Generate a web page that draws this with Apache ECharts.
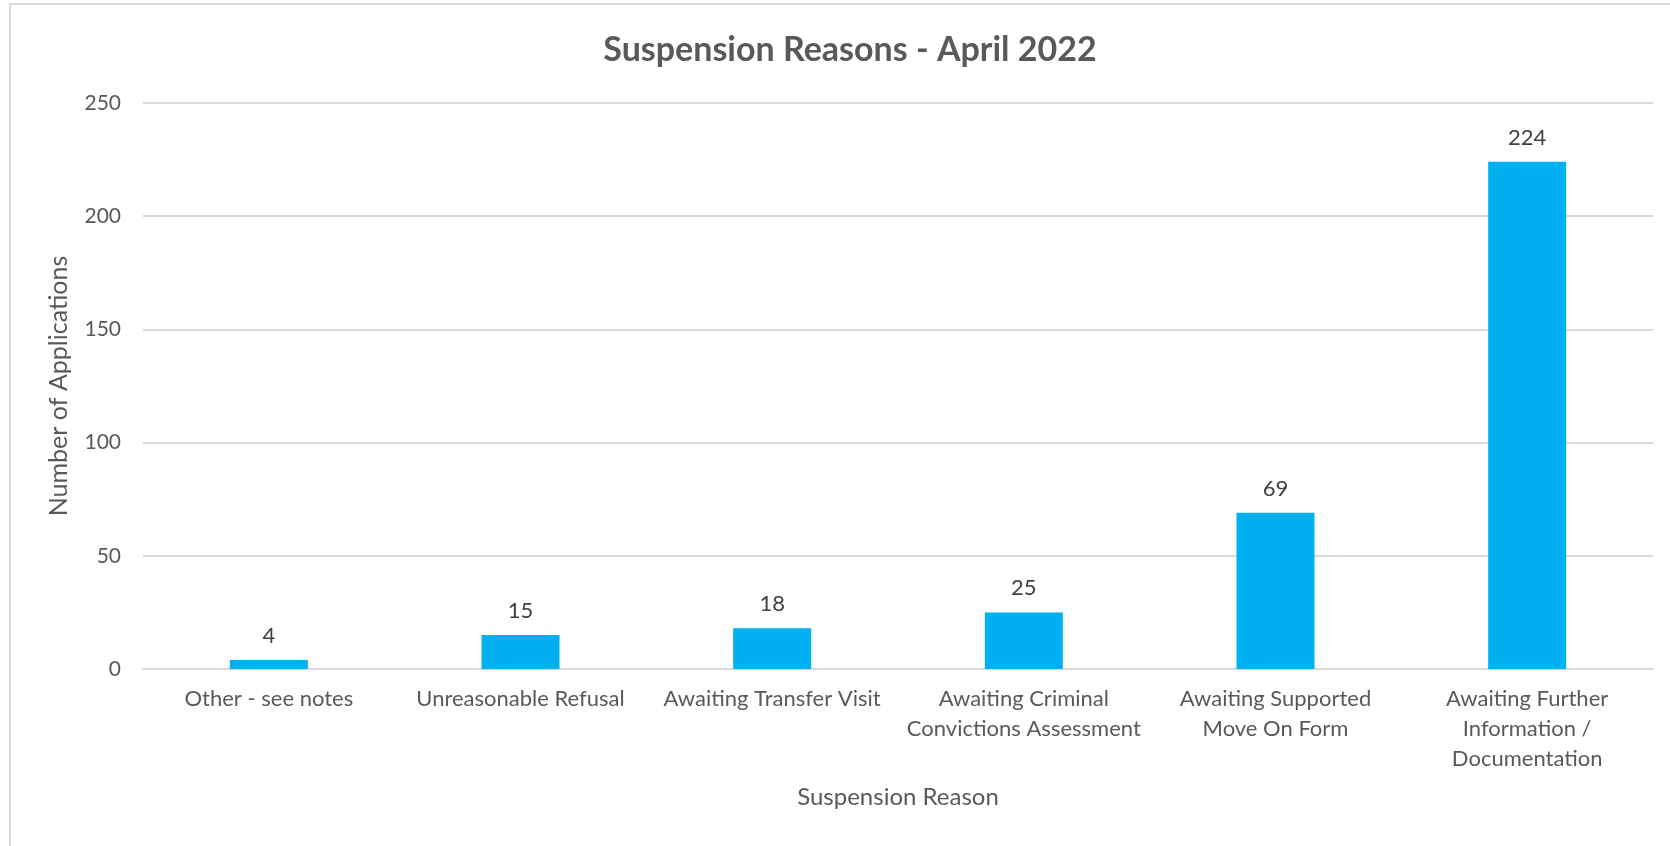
<!DOCTYPE html>
<html>
<head>
<meta charset="utf-8">
<script src="https://cdn.jsdelivr.net/npm/echarts@6/dist/echarts.min.js"></script>
<style>
  html, body { margin: 0; padding: 0; background: #ffffff; }
  #chart { width: 1670px; height: 846px; }
</style>
</head>
<body>
<div id="chart"></div>
<script>
const chartTitle = 'Suspension Reasons - April 2022';
const xAxisTitle = 'Suspension Reason';
const yAxisTitle = 'Number of Applications';
const categories = [
  'Other - see notes',
  'Unreasonable Refusal',
  'Awaiting Transfer Visit',
  'Awaiting Criminal\nConvictions Assessment',
  'Awaiting Supported\nMove On Form',
  'Awaiting Further\nInformation /\nDocumentation'
];
const applications = [4, 15, 18, 25, 69, 224];
const yMin = 0;
const yMax = 250;
const yInterval = 50;

const FONT = 'Lato, "Open Sans", sans-serif';
const TXT = '#595959';

const chart = echarts.init(document.getElementById('chart'), null, { renderer: 'canvas' });
chart.setOption({
  backgroundColor: '#ffffff',
  animation: false,
  graphic: [
    {
      type: 'rect',
      shape: { x: 10, y: 4, width: 1700, height: 900 },
      style: { fill: 'none', stroke: '#d9d9d9', lineWidth: 2 },
      silent: true
    }
  ],
  title: {
    text: chartTitle,
    left: 845,
    top: 28,
    textAlign: 'center',
    textStyle: { fontFamily: FONT, fontSize: 34, fontWeight: 'bold', color: TXT }
  },
  grid: { left: 143, right: 17, top: 103, bottom: 177, containLabel: false },
  xAxis: {
    type: 'category',
    data: categories,
    name: xAxisTitle,
    nameLocation: 'middle',
    nameGap: 116,
    nameTextStyle: { fontFamily: FONT, fontSize: 24, color: TXT },
    axisLine: { show: true, lineStyle: { color: '#d9d9d9', width: 2 } },
    axisTick: { show: false },
    axisLabel: {
      interval: 0,
      margin: 15,
      fontFamily: FONT,
      fontSize: 22,
      lineHeight: 30,
      color: TXT,
      align: 'center'
    }
  },
  yAxis: {
    type: 'value',
    min: yMin,
    max: yMax,
    interval: yInterval,
    name: yAxisTitle,
    nameLocation: 'middle',
    nameGap: 72,
    nameRotate: 90,
    nameTextStyle: { fontFamily: FONT, fontSize: 25, color: TXT },
    axisLine: { show: false },
    axisTick: { show: false },
    axisLabel: { margin: 22, fontFamily: FONT, fontSize: 21, color: TXT },
    splitLine: { show: true, lineStyle: { color: '#d9d9d9', width: 2 } }
  },
  series: [
    {
      type: 'bar',
      data: applications,
      barCategoryGap: '69%',
      itemStyle: { color: '#00B0F0' },
      label: {
        show: true,
        position: 'top',
        distance: 13,
        fontFamily: FONT,
        fontSize: 22,
        color: '#404040'
      }
    }
  ]
});
</script>
</body>
</html>
